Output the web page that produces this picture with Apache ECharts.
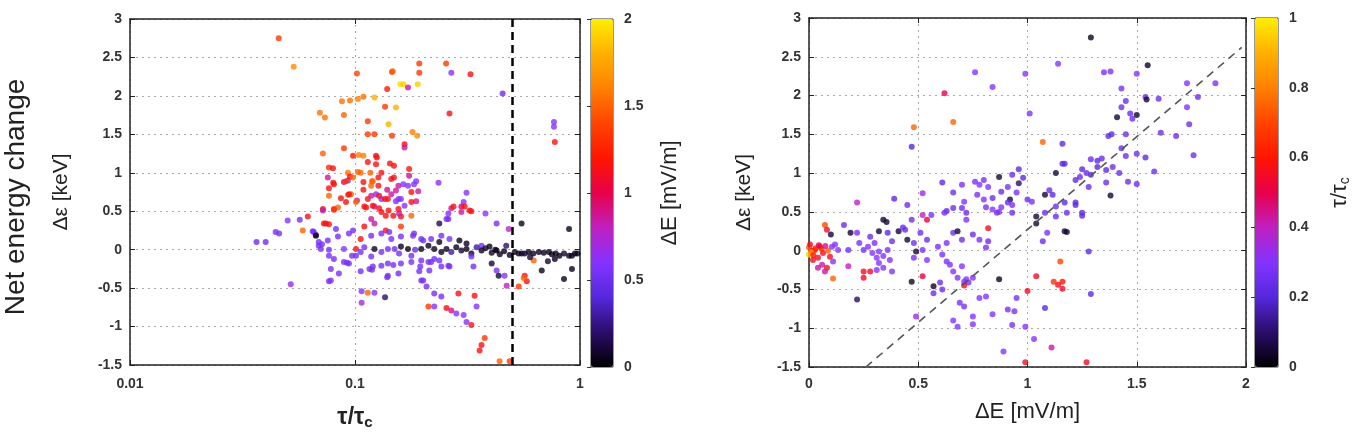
<!DOCTYPE html>
<html>
<head>
<meta charset="utf-8">
<script src="https://cdn.jsdelivr.net/npm/echarts@6/dist/echarts.min.js"></script>
<style>
  html, body { margin: 0; padding: 0; background: #fff; }
  #chart { width: 1365px; height: 435px; }
</style>
</head>
<body>
<div id="chart"></div>
<script>
// [tau/tau_c, delta eps (keV), delta E (mV/m)]
var leftData = [
  [0.0458,2.75,1.35],[0.0534,2.38,1.65],[0.0698,1.78,1.55],[0.0735,1.72,1.55],[0.0875,1.93,1.55],
  [0.095,1.94,1.55],[0.103,1.96,1.6],[0.109,1.99,1.55],[0.122,1.98,1.8],[0.102,2.29,1.4],
  [0.0893,1.75,1.5],[0.114,1.67,1.35],[0.114,1.50,1.35],[0.122,1.50,1.35],[0.0893,1.32,1.35],
  [0.072,1.25,1.5],[0.098,1.22,1.2],[0.104,1.23,1.6],[0.109,1.22,1.6],[0.0766,1.07,1.3],
  [0.0798,1.06,1.15],[0.093,1.0,1.55],[0.103,1.01,1.5],[0.106,1.0,1.5],[0.114,1.14,1.15],
  [0.117,1.0,1.5],[0.124,1.22,1.15],[0.124,1.11,1.15],[0.131,1.0,1.15],[0.136,1.86,1.35],
  [0.139,2.09,1.2],[0.146,2.31,1.35],[0.152,1.85,1.8],[0.141,1.63,1.8],[0.146,1.48,1.35],
  [0.159,2.15,1.95],[0.143,1.12,1.15],[0.149,1.09,1.15],[0.166,1.37,1.15],[0.193,2.42,1.35],
  [0.193,2.30,1.35],[0.147,2.32,1.5],[0.254,2.42,1.35],[0.268,2.30,0.6],[0.326,2.28,1.15],
  [0.164,2.15,1.9],[0.172,2.11,0.85],[0.19,2.15,1.9],[0.453,2.03,0.5],[0.263,1.77,1.15],
  [0.18,1.53,1.6],[0.189,1.48,1.65],[0.166,1.33,0.85],[0.766,1.66,0.6],[0.766,1.60,0.6],
  [0.773,1.40,1.15],[0.174,1.05,1.15],[0.174,0.96,0.9],[0.187,0.89,0.6],[0.183,0.85,0.6],
  [0.235,0.87,0.65],[0.313,0.74,0.6],[0.304,0.62,0.6],[0.297,0.56,0.95],[0.323,0.51,1.15],
  [0.268,0.54,0.85],[0.260,0.47,0.6],[0.380,0.47,0.6],[0.125,1.20,1.15],
  [0.08,0.87,1.15],[0.0893,0.88,0.95],[0.093,0.9,0.6],[0.095,0.95,1.15],[0.0766,0.70,1.5],
  [0.0866,0.67,1.15],[0.0931,0.71,1.5],[0.096,0.72,1.5],[0.0912,0.62,1.15],[0.102,0.64,0.85],
  [0.109,0.78,1.15],[0.118,0.83,1.5],[0.119,0.89,1.5],[0.127,0.94,1.15],[0.139,0.78,0.9],
  [0.124,0.72,0.6],[0.131,0.66,0.6],[0.136,0.66,1.15],[0.145,0.92,1.15],[0.152,0.77,0.85],
  [0.156,0.66,0.6],[0.112,0.55,1.15],[0.122,0.56,0.85],[0.128,0.54,1.15],[0.141,0.51,1.15],
  [0.0806,0.52,1.15],[0.084,0.55,1.5],[0.0757,0.94,0.85],[0.0766,0.80,1.15],
  [0.0806,0.85,1.15],[0.0912,0.89,1.35],[0.098,0.94,1.5],[0.109,0.88,1.15],[0.12,0.89,1.5],
  [0.127,0.83,1.15],[0.149,0.94,1.15],[0.156,0.83,0.85],[0.164,0.85,0.6],[0.172,0.83,0.6],
  [0.191,0.76,0.85],[0.178,0.75,1.15],[0.187,0.63,0.85],[0.094,0.72,1.15],[0.101,0.62,1.5],
  [0.114,0.66,1.15],[0.118,0.70,0.85],[0.128,0.70,1.15],[0.14,0.66,1.15],[0.145,0.72,0.85],
  [0.152,0.63,0.6],[0.16,0.66,0.6],[0.166,0.57,0.6],[0.156,0.53,1.15],[0.072,0.53,1.15],
  [0.0806,0.53,1.35],[0.110,0.56,1.15],[0.12,0.57,1.15],[0.131,0.49,1.15],[0.137,0.44,1.15],
  [0.148,0.44,1.15],[0.16,0.43,1.15],[0.178,0.44,1.5],[0.118,0.40,0.85],[0.0617,0.43,1.15],
  [0.0727,0.34,1.15],[0.11,0.30,1.15],[0.122,0.34,0.85],[0.16,0.30,1.35],[0.137,0.25,1.15],
  [0.0586,0.25,1.5],[0.157,0.47,0.85],[0.178,0.62,1.15],[0.307,0.56,1.15],[0.329,0.50,1.15],
  [0.297,0.49,0.85],[0.274,0.56,1.15],[0.255,0.40,0.55],[0.426,0.34,0.55],[0.482,0.27,0.8],
  [0.0365,0.10,0.5],[0.0401,0.10,0.5],[0.0444,0.23,0.55],[0.046,0.21,0.55],[0.0502,0.38,0.6],
  [0.0568,0.39,0.55],[0.0518,-0.45,0.7],[0.0649,0.24,0.5],[0.067,0.19,0.15],[0.069,0.05,0.55],
  [0.0713,0.07,0.55],[0.0766,-0.08,0.55],[0.0781,-0.40,0.6],[0.072,0.51,0.85],[0.0742,0.34,1.15],
  [0.0766,0.33,1.15],[0.0656,0.23,0.55],[0.067,0.18,0.1],[0.069,0.10,0.55],[0.0757,0.12,0.55],
  [0.084,0.17,0.55],[0.0823,0.27,0.55],[0.094,0.21,0.55],[0.098,0.25,0.55],[0.106,0.14,1.15],
  [0.118,0.18,0.55],[0.131,0.21,0.55],[0.142,0.23,0.55],[0.145,0.14,0.55],[0.16,0.17,0.55],
  [0.181,0.18,0.55],[0.197,0.14,0.55],[0.242,0.18,0.55],[0.26,0.40,0.55],[0.237,0.34,0.15],
  [0.0705,0.01,0.55],[0.0766,0.0,0.55],[0.0893,0.01,0.6],[0.101,0.01,1.15],[0.106,-0.03,0.55],
  [0.110,0.03,0.55],[0.122,0.01,0.05],[0.131,-0.03,0.55],[0.14,0.01,0.55],[0.15,0.01,0.55],
  [0.16,0.04,0.05],[0.172,0.01,0.05],[0.185,0.0,0.5],[0.197,0.01,0.05],[0.212,0.05,0.05],
  [0.225,0.01,0.05],[0.242,-0.03,0.05],[0.183,0.21,0.55],[0.201,0.12,0.55],[0.218,0.14,0.55],
  [0.237,0.10,0.05],[0.263,0.14,0.55],[0.291,0.12,0.05],[0.313,0.08,0.05],[0.365,0.05,0.55],
  [0.396,0.04,0.05],[0.426,-0.01,0.05],
  [0.255,0.01,0.05],[0.268,-0.03,0.3],[0.282,0.03,0.05],[0.297,-0.01,0.1],[0.313,0.01,0.05],
  [0.329,-0.05,0.05],[0.347,0.03,0.3],[0.365,-0.01,0.05],[0.38,0.02,0.1],[0.405,-0.04,0.05],
  [0.42,0.0,0.05],[0.44,-0.06,0.05],[0.46,-0.02,0.05],[0.47,0.05,0.2],[0.487,-0.07,0.05],
  [0.513,-0.03,0.05],[0.534,-0.05,0.05],[0.551,-0.05,0.05],[0.568,-0.05,0.1],[0.592,-0.03,0.05],
  [0.62,-0.05,0.05],[0.656,-0.03,0.05],[0.69,-0.04,0.05],[0.727,-0.03,0.05],[0.75,-0.06,0.05],
  [0.78,-0.05,0.05],[0.81,-0.08,0.05],[0.849,-0.05,0.1],[0.894,-0.08,0.05],[0.92,-0.08,0.05],
  [0.95,-0.05,0.05],[0.975,-0.05,0.05],[0.623,-0.14,1.5],[0.676,-0.27,0.05],[0.849,-0.38,0.05],
  [0.921,-0.25,0.05],[0.773,-0.12,0.05],[0.55,0.34,0.05],[0.894,0.27,0.05],[0.72,-0.15,0.1],
  [0.6,-0.1,0.1],
  [0.0806,-0.12,0.55],[0.0893,-0.16,0.55],[0.097,-0.08,0.55],[0.101,-0.08,0.55],[0.118,-0.09,0.55],
  [0.12,-0.22,0.55],[0.131,-0.21,0.55],[0.14,-0.18,0.55],[0.148,-0.2,0.55],[0.16,-0.18,0.55],
  [0.178,-0.16,0.55],[0.195,-0.22,0.55],[0.212,-0.16,0.55],[0.225,-0.12,0.55],[0.242,-0.22,0.55],
  [0.214,-0.27,0.55],[0.26,-0.21,0.55],[0.0781,-0.25,0.55],[0.094,-0.18,0.55],[0.14,-0.34,0.55],
  [0.156,-0.31,0.55],[0.197,-0.40,0.55],[0.0766,-0.41,0.55],[0.0848,-0.31,0.55],[0.106,-0.28,0.55],
  [0.116,-0.25,0.55],[0.0921,-0.17,0.55],[0.107,-0.54,0.6],[0.114,-0.56,1.5],[0.122,-0.56,0.6],
  [0.107,-0.69,0.7],[0.136,-0.62,0.2],[0.119,-0.26,0.55],[0.139,-0.36,0.55],
  [0.157,-0.05,0.55],[0.178,-0.08,0.55],[0.197,-0.14,0.55],[0.218,-0.16,0.55],[0.237,-0.14,0.55],
  [0.263,-0.22,0.55],[0.329,-0.09,0.55],[0.336,-0.22,0.55],[0.405,-0.18,0.1],[0.426,-0.27,0.55],
  [0.462,-0.34,0.6],[0.472,-0.47,0.8],[0.435,-0.34,0.1],[0.193,-0.28,0.55],[0.201,-0.40,0.55],
  [0.208,-0.48,0.55],[0.225,-0.57,0.55],[0.242,-0.61,0.55],[0.288,-0.57,1.15],[0.34,-0.60,1.15],
  [0.347,-0.74,0.6],[0.212,-0.74,1.35],[0.225,-0.74,0.6],[0.255,-0.76,1.15],[0.268,-0.79,0.9],
  [0.282,-0.83,0.6],[0.304,-0.85,0.6],[0.313,-0.94,0.6],[0.329,-0.98,1.15],[0.377,-1.15,1.35],
  [0.365,-1.24,1.15],[0.358,-1.31,1.15],[0.439,-1.45,1.5],[0.487,-1.45,1.35],[0.568,-0.34,1.15],
  [0.58,-0.41,1.15],[0.534,-0.48,1.35],[0.562,-0.37,1.5]
];

// [delta E (mV/m), delta eps (keV), tau/tau_c]
var rightData = [
  [0.22,0.62,0.4],[0.39,0.67,0.22],[0.45,0.59,0.25],[0.48,1.59,0.75],[0.47,1.34,0.2],
  [0.52,0.74,0.35],[0.62,2.03,0.5],[0.66,1.66,0.75],[0.76,2.30,0.3],[0.84,2.11,0.3],
  [0.99,2.28,0.3],[1.01,1.77,0.3],[1.14,2.41,0.3],[1.07,1.40,0.75],[1.16,1.38,0.22],
  [1.16,1.12,0.22],[1.17,1.12,0.22],[1.13,1.0,0.05],
  [0.61,0.88,0.22],[0.66,0.75,0.25],[0.70,0.85,0.28],[0.76,0.89,0.28],[0.78,0.85,0.3],
  [0.77,0.72,0.28],[0.80,0.91,0.28],[0.82,0.82,0.3],[0.84,0.68,0.25],[0.87,0.95,0.05],
  [0.88,0.76,0.25],[0.91,0.82,0.28],[0.93,0.98,0.25],[0.96,1.05,0.22],[0.98,0.94,0.22],
  [0.96,0.87,0.1],[0.95,0.75,0.28],[0.92,0.66,0.05],[1.0,0.66,0.25],[1.02,0.63,0.28],
  [1.04,0.44,0.05],[1.08,0.72,0.05],[1.10,0.78,0.25],[1.115,0.72,0.22],[1.13,0.57,0.25],
  [1.17,0.62,0.22],[1.22,0.91,0.22],[1.22,0.62,0.22],
  [0.80,0.66,0.3],[0.81,0.56,0.28],[0.84,0.53,0.3],[0.87,0.50,0.3],[0.91,0.62,0.25],
  [0.93,0.59,0.28],[0.88,0.56,0.3],[0.86,0.49,0.28],[0.93,0.49,0.25],[0.66,0.55,0.25],
  [0.70,0.55,0.25],[0.71,0.63,0.3],[0.63,0.51,0.22],[0.72,0.49,0.25],
  [0.073,0.33,0.7],[0.082,0.27,0.55],[0.16,0.33,0.25],[0.10,0.21,0.05],[0.19,0.23,0.05],
  [0.22,0.23,0.28],
  [0.0,0.04,0.75],[0.0,-0.05,0.95],[0.014,0.0,0.55],[0.027,0.01,0.55],[0.05,0.05,0.55],
  [0.064,-0.03,0.55],[0.041,-0.09,0.55],[0.087,0.0,0.75],[0.096,-0.08,0.55],[0.105,0.05,0.3],
  [0.119,0.08,0.3],[0.133,0.01,0.3],[0.06,-0.18,0.42],[0.082,-0.22,0.55],[0.073,-0.27,0.42],
  [0.041,-0.22,0.42],[0.11,-0.14,0.3],[0.018,-0.12,0.55],[0.005,0.08,0.55],[0.01,-0.02,0.85],
  [0.03,0.03,0.65],[0.02,-0.06,0.6],[0.058,0.02,0.65],[0.045,0.07,0.5],[0.075,0.06,0.45],
  [0.11,-0.36,0.75],[0.18,-0.2,0.4],[0.18,0.01,0.25],
  [0.23,0.10,0.28],[0.25,0.01,0.28],[0.27,0.05,0.3],[0.29,-0.03,0.3],[0.31,-0.09,0.3],
  [0.32,-0.01,0.3],[0.34,-0.07,0.3],[0.36,0.01,0.28],[0.37,-0.12,0.3],[0.32,-0.16,0.3],
  [0.30,0.10,0.28],[0.28,0.18,0.25],[0.32,0.25,0.05],[0.36,0.23,0.22],[0.38,0.12,0.25],
  [0.41,0.25,0.05],[0.44,0.27,0.25],[0.45,0.14,0.05],[0.48,0.10,0.25],[0.49,-0.01,0.05],
  [0.48,-0.09,0.28],[0.52,0.01,0.28],[0.54,-0.12,0.3],[0.54,0.14,0.25],[0.51,0.23,0.25],
  [0.25,-0.27,0.55],[0.28,-0.27,0.55],[0.31,-0.25,0.3],[0.34,-0.22,0.3],[0.38,-0.27,0.3],
  [0.25,-0.35,0.55],[0.22,-0.63,0.1],[0.47,-0.40,0.03],[0.52,-0.33,0.5],
  [0.57,-0.46,0.03],[0.57,-0.55,0.25],[0.61,-0.50,0.25],[0.60,-0.41,0.25],
  [0.59,0.05,0.28],[0.61,-0.05,0.28],[0.63,-0.14,0.28],[0.645,-0.18,0.3],[0.66,-0.27,0.3],
  [0.68,-0.35,0.3],[0.70,-0.2,0.3],[0.71,-0.40,0.3],[0.72,-0.37,0.3],[0.75,-0.35,0.3],
  [0.73,-0.41,0.28],[0.71,-0.45,0.55],
  [0.62,0.49,0.28],[0.66,0.23,0.25],[0.68,0.25,0.05],[0.70,0.14,0.25],[0.63,0.10,0.28],
  [0.75,0.21,0.25],[0.78,0.14,0.28],[0.82,0.29,0.55],[0.82,0.12,0.25],[0.81,0.04,0.28],
  [0.54,0.40,0.5],[0.52,0.46,0.4],[0.56,0.46,0.28],[0.34,0.40,0.05],[0.355,0.37,0.05],
  [0.72,0.40,0.28],[0.47,0.40,0.25],[0.43,0.30,0.25],
  [0.69,-0.67,0.28],[0.71,-0.72,0.28],[0.75,-0.85,0.3],[0.75,-0.95,0.3],[0.68,-0.98,0.3],
  [0.66,-0.9,0.3],[0.78,-0.61,0.3],[0.81,-0.59,0.3],[0.84,-0.82,0.3],[0.87,-0.37,0.03],
  [0.91,-0.76,0.28],[0.94,-0.78,0.28],[0.93,-0.96,0.28],[0.95,-0.61,0.28],[0.99,-0.98,0.3],
  [1.0,-0.52,0.55],[0.89,-1.30,0.3],[0.99,-1.44,0.55],[0.49,-0.85,0.35],
  [1.03,-1.14,0.3],[1.04,-0.33,0.55],[1.08,-0.74,0.22],[1.11,-1.25,0.42],[1.15,-0.14,0.7],
  [1.16,-0.40,0.6],[1.14,-0.44,0.55],[1.12,-0.40,0.65],[1.16,-0.49,0.55],[1.29,-0.56,0.22],
  [1.27,-1.44,0.55],
  [1.07,0.12,0.25],[1.09,0.23,0.28],[1.04,0.35,0.05],[1.08,0.49,0.25],[1.17,0.25,0.05],
  [1.18,0.24,0.05],[1.22,0.59,0.22],[1.13,0.44,0.25],[1.25,0.45,0.22],[1.28,-0.01,0.22],
  [1.29,2.75,0.03],[1.55,2.39,0.03],[1.35,2.30,0.28],[1.38,2.31,0.28],[1.50,2.28,0.3],
  [1.43,2.09,0.28],[1.45,1.93,0.25],[1.43,1.85,0.25],[1.47,1.77,0.25],[1.50,1.75,0.05],
  [1.41,1.72,0.05],[1.48,1.70,0.25],[1.54,1.98,0.25],[1.545,1.95,0.05],[1.60,1.96,0.25],
  [1.73,2.16,0.3],[1.86,2.16,0.28],[1.78,1.98,0.25],[1.73,1.85,0.3],[1.74,1.63,0.25],
  [1.76,1.23,0.25],[1.37,1.48,0.22],[1.385,1.50,0.22],[1.45,1.50,0.25],[1.61,1.52,0.25],
  [1.68,1.48,0.25],[1.43,1.32,0.25],[1.45,1.22,0.25],[1.50,1.25,0.25],[1.54,1.20,0.22],
  [1.29,1.18,0.25],[1.32,1.16,0.22],[1.34,1.19,0.25],[1.32,1.08,0.22],[1.39,1.08,0.25],
  [1.36,1.04,0.22],[1.25,1.05,0.22],[1.27,1.0,0.25],[1.29,0.98,0.22],[1.24,0.95,0.25],
  [1.28,0.82,0.25],[1.42,1.0,0.25],[1.58,1.02,0.25],[1.36,0.88,0.25],[1.46,0.89,0.25],
  [1.50,0.86,0.25],[1.38,0.71,0.05],[1.18,0.49,0.25],[1.25,0.49,0.22]
];

var tauCut = 0.5;                          // vertical dashed line, left panel
var diagLine = [[0.26, -1.5], [1.98, 2.62]]; // dashed reference line, right panel

var cmap = ['#000000','#2a0c6a','#5528dc','#8433ff','#c020c0','#e8004a',
            '#ff1500','#ff4400','#ff8000','#ffb000','#ffee00'];

var FONT = 'Liberation Sans, Arial, Helvetica, sans-serif';
var lab = { color: '#333', fontSize: 14, fontWeight: 'bold', fontFamily: FONT };
var dotted = { show: true, lineStyle: { color: '#aaa', type: [2, 4], width: 1 } };
var frame = { show: true, onZero: false, lineStyle: { color: '#222', width: 1.5 } };
var tick = { show: true, inside: true, length: 5, lineStyle: { color: '#222' } };

var chart = echarts.init(document.getElementById('chart'));

var option = {
  animation: false,
  backgroundColor: '#fff',
  textStyle: { fontFamily: FONT },
  grid: [
    { left: 130, top: 19, width: 450, height: 348 },
    { left: 809, top: 18, width: 437, height: 349 },
    { left: 591, top: 19, width: 22, height: 348, show: true, borderColor: '#333', borderWidth: 1 },
    { left: 1255, top: 18, width: 23, height: 349, show: true, borderColor: '#333', borderWidth: 1 }
  ],
  xAxis: [
    { gridIndex: 0, type: 'log', logBase: 10, min: 0.01, max: 1, position: 'bottom',
      axisLine: frame, axisTick: tick, splitLine: dotted,
      axisLabel: Object.assign({ margin: 12, formatter: function (v) { return String(+v.toPrecision(2)); } }, lab),
      name: '{a|τ/τ}{b|c}', nameLocation: 'middle', nameGap: 40,
      nameTextStyle: { rich: { a: { fontSize: 23, fontWeight: 'bold', color: '#222', fontFamily: FONT },
                               b: { fontSize: 15, fontWeight: 'bold', color: '#222', fontFamily: FONT, verticalAlign: 'bottom', padding: [10, 0, 0, 0] } } } },
    { gridIndex: 0, type: 'log', logBase: 10, min: 0.01, max: 1, position: 'top',
      axisLine: frame, axisTick: tick, axisLabel: { show: false }, splitLine: { show: false } },
    { gridIndex: 1, type: 'value', min: 0, max: 2, interval: 0.5, position: 'bottom',
      axisLine: frame, axisTick: tick, splitLine: dotted,
      axisLabel: Object.assign({ margin: 10 }, lab),
      name: 'ΔE [mV/m]', nameLocation: 'middle', nameGap: 34,
      nameTextStyle: { fontSize: 22, color: '#222', fontFamily: FONT } },
    { gridIndex: 1, type: 'value', min: 0, max: 2, interval: 0.5, position: 'top',
      axisLine: frame, axisTick: tick, axisLabel: { show: false }, splitLine: { show: false } },
    { gridIndex: 2, type: 'value', show: false, min: 0, max: 1 },
    { gridIndex: 3, type: 'value', show: false, min: 0, max: 1 }
  ],
  yAxis: [
    { gridIndex: 0, type: 'value', min: -1.5, max: 3, interval: 0.5, position: 'left',
      axisLine: frame, axisTick: tick, splitLine: dotted,
      axisLabel: Object.assign({ margin: 8 }, lab),
      name: 'Δε [keV]', nameLocation: 'middle', nameGap: 58, nameRotate: 90,
      nameTextStyle: { fontSize: 21, color: '#222', fontFamily: FONT } },
    { gridIndex: 0, type: 'value', min: -1.5, max: 3, interval: 0.5, position: 'right',
      axisLine: frame, axisTick: tick, axisLabel: { show: false }, splitLine: { show: false } },
    { gridIndex: 1, type: 'value', min: -1.5, max: 3, interval: 0.5, position: 'left',
      axisLine: frame, axisTick: tick, splitLine: dotted,
      axisLabel: Object.assign({ margin: 8 }, lab),
      name: 'Δε [keV]', nameLocation: 'middle', nameGap: 54, nameRotate: 90,
      nameTextStyle: { fontSize: 21, color: '#222', fontFamily: FONT } },
    { gridIndex: 1, type: 'value', min: -1.5, max: 3, interval: 0.5, position: 'right',
      axisLine: frame, axisTick: tick, axisLabel: { show: false }, splitLine: { show: false } },
    { gridIndex: 2, type: 'value', min: 0, max: 2, interval: 0.5, position: 'right',
      axisLine: { show: false }, axisTick: { show: true, inside: true, length: 4, lineStyle: { color: '#333' } },
      splitLine: { show: false }, axisLabel: Object.assign({ margin: 11 }, lab),
      name: 'ΔE [mV/m]', nameLocation: 'middle', nameGap: 46, nameRotate: 90,
      nameTextStyle: { fontSize: 22, color: '#222', fontFamily: FONT } },
    { gridIndex: 3, type: 'value', min: 0, max: 1, interval: 0.2, position: 'right',
      axisLine: { show: false }, axisTick: { show: true, inside: true, length: 4, lineStyle: { color: '#333' } },
      splitLine: { show: false }, axisLabel: Object.assign({ margin: 11 }, lab),
      name: '{a|τ/τ}{b|c}', nameLocation: 'middle', nameGap: 50, nameRotate: 90,
      nameTextStyle: { rich: { a: { fontSize: 22, color: '#222', fontFamily: FONT },
                               b: { fontSize: 14, color: '#222', fontFamily: FONT, verticalAlign: 'bottom', padding: [10, 0, 0, 0] } } } }
  ],
  visualMap: [
    { type: 'continuous', seriesIndex: 0, dimension: 2, min: 0, max: 2,
      left: 591, top: 19, itemWidth: 22, itemHeight: 348, padding: 0,
      calculable: false, hoverLink: false, inRange: { color: cmap } },
    { type: 'continuous', seriesIndex: 1, dimension: 2, min: 0, max: 1,
      left: 1255, top: 18, itemWidth: 23, itemHeight: 349, padding: 0,
      calculable: false, hoverLink: false, inRange: { color: cmap } }
  ],
  graphic: [
    { type: 'text', x: 16, y: 197, rotation: Math.PI / 2,
      style: { text: 'Net energy change', align: 'center', verticalAlign: 'middle',
               textAlign: 'center', textVerticalAlign: 'middle',
               fontSize: 28, fontFamily: FONT, fill: '#222' } }
  ],
  series: [
    { type: 'scatter', xAxisIndex: 0, yAxisIndex: 0, symbolSize: 6, data: leftData,
      markLine: { silent: true, symbol: 'none', label: { show: false },
                  lineStyle: { color: '#000', type: [8, 5], width: 2.5 },
                  data: [{ xAxis: tauCut }] } },
    { type: 'scatter', xAxisIndex: 2, yAxisIndex: 2, symbolSize: 6, data: rightData,
      markLine: { silent: true, symbol: 'none', label: { show: false },
                  lineStyle: { color: '#555', type: [8, 6], width: 1.6 },
                  data: [[{ coord: diagLine[0] }, { coord: diagLine[1] }]] } }
  ]
};

chart.setOption(option);
</script>
</body>
</html>
